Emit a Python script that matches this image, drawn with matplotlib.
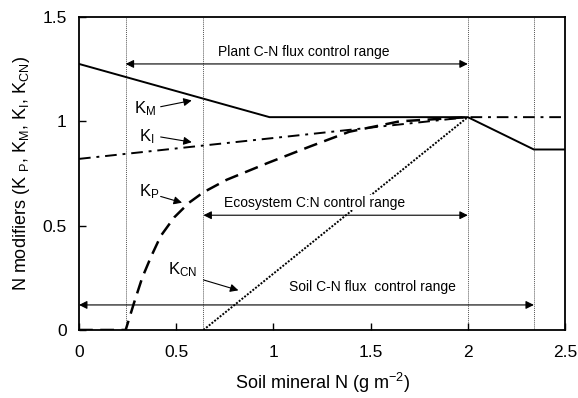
import matplotlib
matplotlib.use("Agg")
import matplotlib.pyplot as plt

plt.rcParams['font.family'] = ['Liberation Sans', 'DejaVu Sans']
plt.rcParams['mathtext.default'] = 'regular'

# Data
km_x = [0.0, 0.98, 2.0, 2.34, 2.5]
km_y = [1.275, 1.02, 1.02, 0.865, 0.865]

ki_x = [0.0, 2.0, 2.5]
ki_y = [0.82, 1.02, 1.02]

kp_x = [0.0, 0.24, 0.283, 0.325, 0.37, 0.42, 0.49, 0.566, 0.64, 0.76, 0.97, 1.19, 1.39, 1.65, 2.0]
kp_y = [0.0, 0.0, 0.13, 0.25, 0.35, 0.45, 0.54, 0.61, 0.66, 0.72, 0.80, 0.88, 0.95, 1.0, 1.02]

kcn_x = [0.64, 2.0]
kcn_y = [0.0, 1.02]

vlines_x = [0.24, 0.64, 2.0, 2.34]

xticks = [0, 0.5, 1, 1.5, 2, 2.5]
xtick_labels = ["0", "0.5", "1", "1.5", "2", "2.5"]
yticks = [0, 0.5, 1, 1.5]
ytick_labels = ["0", "0.5", "1", "1.5"]

fig = plt.figure(figsize=(5.78, 3.98), dpi=100)
ax = fig.add_axes([0.1367, 0.1709, 0.9775 - 0.1367, 0.9573 - 0.1709])

for xv in vlines_x:
    ax.axvline(xv, color='#555555', lw=0.7, ls=(0, (1, 1)), zorder=1)

ax.plot(km_x, km_y, color='black', lw=1.4, zorder=3)
ax.plot(ki_x, ki_y, color='black', lw=1.4, ls=(0, (6, 3, 1.5, 3)), zorder=3)
ax.plot(kp_x, kp_y, color='black', lw=1.8, ls=(0, (5.5, 3)), zorder=3)
ax.plot(kcn_x, kcn_y, color='black', lw=1.4, ls=(0, (1, 0.8)), zorder=3)

ax.set_xlim(0, 2.5)
ax.set_ylim(0, 1.5)
ax.set_xticks(xticks)
ax.set_xticklabels(xtick_labels)
ax.set_yticks(yticks)
ax.set_yticklabels(ytick_labels)
ax.tick_params(direction='in', length=5, width=1, labelsize=12.5)
ax.tick_params(axis='x', pad=11)
ax.tick_params(axis='y', pad=9)
for s in ax.spines.values():
    s.set_linewidth(1.3)

ax.set_xlabel("Soil mineral N (g m$^{-2}$)", fontsize=13, labelpad=8)
ax.set_ylabel("N modifiers (K $_{P}$, K$_{M}$, K$_{I}$, K$_{CN}$)", fontsize=13, labelpad=7)

def range_arrow(x0, x1, y):
    ax.annotate("", xy=(x0, y), xytext=(x1, y),
                arrowprops=dict(arrowstyle='<|-|>', color='black', lw=0.8,
                                mutation_scale=12, shrinkA=0, shrinkB=0), zorder=4)

range_arrow(0.24, 2.0, 1.275)
ax.text(1.155, 1.33, "Plant C-N flux control range", ha='center', va='center', fontsize=10)
range_arrow(0.64, 2.0, 0.55)
ax.text(1.21, 0.61, "Ecosystem C:N control range", ha='center', va='center', fontsize=10,
        bbox=dict(facecolor='white', edgecolor='none', pad=0.5), zorder=5)
range_arrow(0.0, 2.34, 0.12)
ax.text(1.51, 0.205, "Soil C-N flux  control range", ha='center', va='center', fontsize=10)

def label_arrow(txt, tx, ty, ax0, ay0, ax1, ay1):
    ax.text(tx, ty, txt, ha='left', va='center', fontsize=12)
    ax.annotate("", xy=(ax1, ay1), xytext=(ax0, ay0),
                arrowprops=dict(arrowstyle='-|>', color='black', lw=0.8,
                                mutation_scale=12, shrinkA=0, shrinkB=0))

label_arrow("K$_M$", 0.285, 1.06, 0.42, 1.07, 0.58, 1.10)
label_arrow("K$_I$", 0.31, 0.925, 0.42, 0.925, 0.58, 0.90)
label_arrow("K$_P$", 0.31, 0.665, 0.42, 0.64, 0.53, 0.61)
label_arrow("K$_{CN}$", 0.46, 0.29, 0.64, 0.24, 0.82, 0.19)

fig.savefig("out.png", dpi=100)
